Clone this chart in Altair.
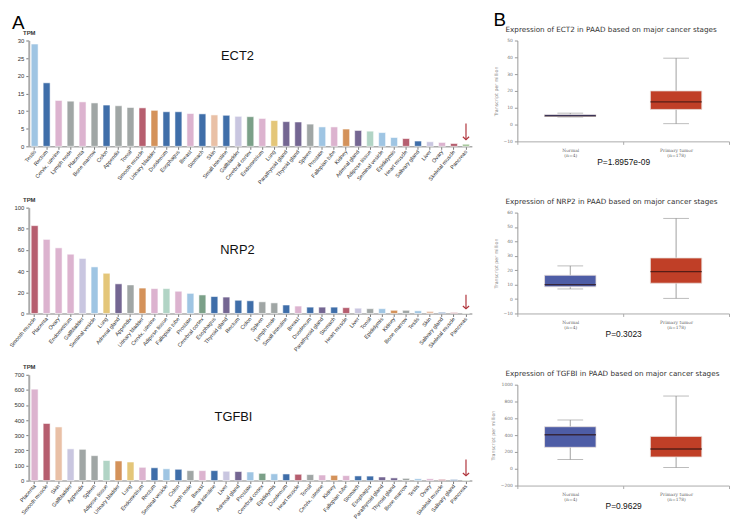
import altair as alt
import pandas as pd

# ---------------- data ----------------
ect2_tissues = ["Testis", "Rectum", "Cervix, uterine", "Lymph node", "Placenta", "Bone marrow", "Colon",
                "Appendix", "Tonsil", "Smooth muscle", "Urinary bladder", "Duodenum", "Esophagus", "Breast",
                "Stomach", "Skin", "Small intestine", "Gallbladder", "Cerebral cortex", "Endometrium", "Lung",
                "Parathyroid gland", "Thyroid gland", "Spleen", "Prostate", "Fallopian tube", "Kidney",
                "Adrenal gland", "Adipose tissue", "Seminal vesicle", "Epididymis", "Heart muscle",
                "Salivary gland", "Liver", "Ovary", "Skeletal muscle", "Pancreas"]
ect2_tpm = [29.0, 18.0, 13.0, 12.8, 12.6, 12.3, 11.7, 11.5, 11.0, 10.9, 10.2, 9.8, 9.8, 9.3, 9.2, 8.9, 8.8,
            8.5, 8.4, 7.9, 7.3, 7.0, 6.9, 6.3, 5.5, 5.5, 4.9, 4.5, 4.3, 3.9, 2.5, 2.2, 1.5, 1.3, 1.1, 0.8, 0.6]

nrp2_tissues = ["Smooth muscle", "Placenta", "Ovary", "Endometrium", "Gallbladder", "Seminal vesicle", "Lung",
                "Adrenal gland", "Appendix", "Urinary bladder", "Cervix, uterine", "Adipose tissue",
                "Fallopian tube", "Prostate", "Cerebral cortex", "Esophagus", "Thyroid gland", "Rectum", "Colon",
                "Spleen", "Lymph node", "Small intestine", "Breast", "Duodenum", "Parathyroid gland", "Stomach",
                "Heart muscle", "Liver", "Tonsil", "Epididymis", "Kidney", "Bone marrow", "Testis", "Skin",
                "Salivary gland", "Skeletal muscle", "Pancreas"]
nrp2_tpm = [83, 70, 62, 56, 52, 44, 38, 28, 27, 24, 23.5, 23.5, 21, 19, 17.5, 16, 15.5, 12.5, 12, 11, 10, 8,
            7, 6, 6, 6, 5.5, 5, 4.5, 4.5, 3, 3, 2.5, 2, 1, 0.8, 0.3]

tgfbi_tissues = ["Placenta", "Smooth muscle", "Skin", "Gallbladder", "Appendix", "Spleen", "Adipose tissue",
                 "Urinary bladder", "Lung", "Endometrium", "Rectum", "Seminal vesicle", "Colon", "Lymph node",
                 "Breast", "Small intestine", "Liver", "Adrenal gland", "Prostate", "Cerebral cortex",
                 "Epididymis", "Duodenum", "Heart muscle", "Tonsil", "Cervix, uterine", "Kidney",
                 "Fallopian tube", "Stomach", "Esophagus", "Parathyroid gland", "Thyroid gland", "Bone marrow",
                 "Testis", "Ovary", "Skeletal muscle", "Salivary gland", "Pancreas"]
tgfbi_tpm = [605, 378, 355, 210, 207, 165, 133, 130, 123, 88, 85, 78, 75, 66, 66, 66, 62, 60, 57, 48, 45, 44,
             42, 40, 37, 35, 33, 31, 30, 24, 18, 15, 12, 12, 8, 7, 3]

# tissue group colours (style, not data)
palette = {
    "Testis": "#9fc5e3", "Prostate": "#9fc5e3", "Seminal vesicle": "#9fc5e3", "Epididymis": "#9fc5e3",
    "Rectum": "#3f6ea9", "Colon": "#3f6ea9", "Duodenum": "#3f6ea9", "Esophagus": "#3f6ea9",
    "Stomach": "#3f6ea9", "Small intestine": "#3f6ea9", "Salivary gland": "#3f6ea9",
    "Cervix, uterine": "#dcb3cf", "Placenta": "#dcb3cf", "Breast": "#dcb3cf", "Endometrium": "#dcb3cf",
    "Fallopian tube": "#dcb3cf", "Ovary": "#dcb3cf",
    "Lymph node": "#a0a6a5", "Bone marrow": "#a0a6a5", "Appendix": "#a0a6a5", "Tonsil": "#a0a6a5",
    "Spleen": "#a0a6a5",
    "Smooth muscle": "#b65e6f", "Heart muscle": "#b65e6f", "Skeletal muscle": "#b65e6f",
    "Urinary bladder": "#d4925a", "Kidney": "#d4925a",
    "Skin": "#e9c0a6", "Gallbladder": "#c9c6e0", "Liver": "#c9c6e0",
    "Cerebral cortex": "#7ba088", "Lung": "#e4c679",
    "Parathyroid gland": "#746692", "Thyroid gland": "#746692", "Adrenal gland": "#746692",
    "Adipose tissue": "#b1d4c5", "Pancreas": "#9fc392",
}

box_groups = ["Normal|(n=4)", "Primary tumor|(n=178)"]
ect2_box = dict(lo=[4.5, 0.5], q1=[4.8, 9.0], med=[5.2, 13.5], q3=[6.0, 20.0], hi=[6.8, 39.5])
nrp2_box = dict(lo=[7.0, 0.5], q1=[8.5, 11.0], med=[10.0, 19.0], q3=[16.5, 28.5], hi=[23.0, 56.0])
tgfbi_box = dict(lo=[110, 15], q1=[255, 140], med=[405, 235], q3=[500, 385], hi=[580, 865])
pvals = ["P=1.8957e-09", "P=0.3023", "P=0.9629"]

BAR_W, BAR_H = 448, 107
BOX_W, BOX_H = 214, 102
SANS = "Liberation Sans"


def bar_chart(tissues, values, ymax, ystep, gene, gx, gy, arrow, letter=None):
    df = pd.DataFrame({"tissue": tissues, "tpm": values})
    xscale = alt.Scale(paddingInner=0.42, paddingOuter=0.2)
    xaxis = alt.Axis(title=None, labelAngle=-50, labelAlign="right", labelBaseline="middle",
                     labelFontSize=5.5, labelFont=SANS, labelColor="#333", labelPadding=1,
                     labelOverlap=False,
                     tickSize=3, tickColor="#777", domainColor="#aaa", domainWidth=1.5)
    yscale = alt.Scale(domain=[0, ymax], nice=False)
    yaxis = alt.Axis(title="TPM", titleAngle=0, titleX=0, titleY=-5, titleAlign="center",
                     titleBaseline="bottom", titleFontSize=6, titleFont=SANS, titleFontWeight="bold",
                     titleColor="#333", labelOverlap=False, labelFlush=False,
                     values=list(range(0, ymax + 1, ystep)), labelFontSize=6, labelFont=SANS,
                     labelColor="#333", tickSize=3, tickColor="#777", domainWidth=2,
                     domainColor="#aaa", grid=False)
    xenc = alt.X("tissue:N", sort=tissues, scale=xscale, axis=xaxis)
    bars = alt.Chart(df).mark_bar(stroke="white", strokeWidth=0.8, strokeOpacity=0.7).encode(
        x=xenc, y=alt.Y("tpm:Q", scale=yscale, axis=yaxis),
        color=alt.Color("tissue:N", scale=alt.Scale(domain=list(palette.keys()),
                                                   range=list(palette.values())), legend=None))
    adf = pd.DataFrame({"tissue": ["Pancreas"], "top": [arrow[0]], "bottom": [arrow[1]]})
    rule = alt.Chart(adf).mark_rule(color="#b0343c", strokeWidth=1.2).encode(
        x=xenc, y=alt.Y("top:Q", scale=yscale, axis=yaxis), y2="bottom:Q")
    head = alt.Chart(adf).mark_point(shape="M-1,-0.9L0,0L1,-0.9", filled=False, color="#b0343c",
                                     strokeWidth=1.2, size=40, opacity=1).encode(
        x=xenc, y=alt.Y("bottom:Q", scale=yscale, axis=yaxis))
    tdf = pd.DataFrame({"label": [gene]})
    gtext = alt.Chart(tdf).mark_text(fontSize=13, font=SANS, color="#111", align="center",
                                     baseline="middle").encode(
        text="label:N", x=alt.value(gx), y=alt.value(gy))
    layers = [bars, rule, head, gtext]
    if letter:
        ldf = pd.DataFrame({"label": [letter]})
        layers.append(alt.Chart(ldf).mark_text(fontSize=19, font=SANS, color="#000", align="left",
                                               baseline="top").encode(
            text="label:N", x=alt.value(-17), y=alt.value(-27)))
    return alt.layer(*layers).properties(width=BAR_W, height=BAR_H)


def box_chart(gene, stats, domain, step, pval, letter=None):
    df = pd.DataFrame({"group": box_groups, **stats})
    xenc = alt.X("group:N", sort=box_groups, scale=alt.Scale(paddingInner=0, paddingOuter=0),
                 axis=alt.Axis(title=pval, titleFontSize=8.5, titleFont=SANS, titleColor="#111",
                               titleFontWeight="normal", titlePadding=0,
                               labelExpr="split(datum.label, '|')", labelFontSize=4.5,
                               labelFont="DejaVu Serif", labelColor="#666", labelAngle=0,
                               labelLineHeight=5.5, labelPadding=3, labelOverlap=False,
                               tickBand="extent", tickSize=3, tickColor="#aaa", domainColor="#aaa"))
    yscale = alt.Scale(domain=domain, nice=False)
    yaxis = alt.Axis(values=list(range(domain[0], domain[1] + 1, step)), labelFontSize=4.5,
                     labelFont="DejaVu Sans", labelColor="#777", tickSize=3, tickColor="#999",
                     labelOverlap=False, labelFlush=False, format="d",
                     domainColor="#999", grid=False, title="Transcript per million", titleFontSize=4.8,
                     titleFont="DejaVu Sans", titleColor="#888", titleFontWeight="normal", titlePadding=5)
    base = alt.Chart(df)
    whisk = base.mark_rule(color="#888", strokeWidth=0.8).encode(
        x=xenc, y=alt.Y("lo:Q", scale=yscale, axis=yaxis), y2="hi:Q")
    caps_lo = base.mark_tick(color="#888", size=26, thickness=0.8).encode(
        x=xenc, y=alt.Y("lo:Q", scale=yscale, axis=yaxis))
    caps_hi = base.mark_tick(color="#888", size=26, thickness=0.8).encode(
        x=xenc, y=alt.Y("hi:Q", scale=yscale, axis=yaxis))
    box = base.mark_bar(size=52, stroke="#eadfdb", strokeWidth=0.8).encode(
        x=xenc, y=alt.Y("q1:Q", scale=yscale, axis=yaxis), y2="q3:Q",
        color=alt.Color("group:N", scale=alt.Scale(domain=box_groups, range=["#4e5da6", "#c03f27"]),
                        legend=None))
    med = base.mark_tick(color="#2b1010", size=52, thickness=1.4).encode(
        x=xenc, y=alt.Y("med:Q", scale=yscale, axis=yaxis))
    tdf = pd.DataFrame({"label": [f"Expression of {gene} in PAAD based on major cancer stages"]})
    title = alt.Chart(tdf).mark_text(fontSize=7.3, font="DejaVu Sans", color="#333", align="left",
                                     baseline="middle").encode(
        text="label:N", x=alt.value(-12), y=alt.value(-11))
    layers = [whisk, caps_lo, caps_hi, box, med, title]
    if letter:
        ldf = pd.DataFrame({"label": [letter]})
        layers.append(alt.Chart(ldf).mark_text(fontSize=19, font=SANS, color="#000", align="left",
                                               baseline="top").encode(
            text="label:N", x=alt.value(-24), y=alt.value(-30)))
    return alt.layer(*layers).properties(width=BOX_W, height=BOX_H)


left = alt.vconcat(
    bar_chart(ect2_tissues, ect2_tpm, 30, 5, "ECT2", 211, 16, (6.5, 1.9), letter="A"),
    bar_chart(nrp2_tissues, nrp2_tpm, 100, 20, "NRP2", 211, 43, (17.7, 4.4)),
    bar_chart(tgfbi_tissues, tgfbi_tpm, 700, 100, "TGFBI", 207, 43, (139, 32)),
    spacing=11).resolve_scale(color="independent")

right = alt.vconcat(
    box_chart("ECT2", ect2_box, [-10, 50], 10, pvals[0], letter="B"),
    box_chart("NRP2", nrp2_box, [-10, 60], 10, pvals[1]),
    box_chart("TGFBI", tgfbi_box, [-200, 1000], 200, pvals[2]),
    spacing=32).resolve_scale(color="independent")

chart = (alt.hconcat(left, right, spacing=18)
         .resolve_scale(color="independent")
         .properties(padding=0)
         .configure_axis(labelOverlap=False)
         .configure_view(stroke=None))

chart.save("out.html", embed_options={"renderer": "svg", "actions": False})
